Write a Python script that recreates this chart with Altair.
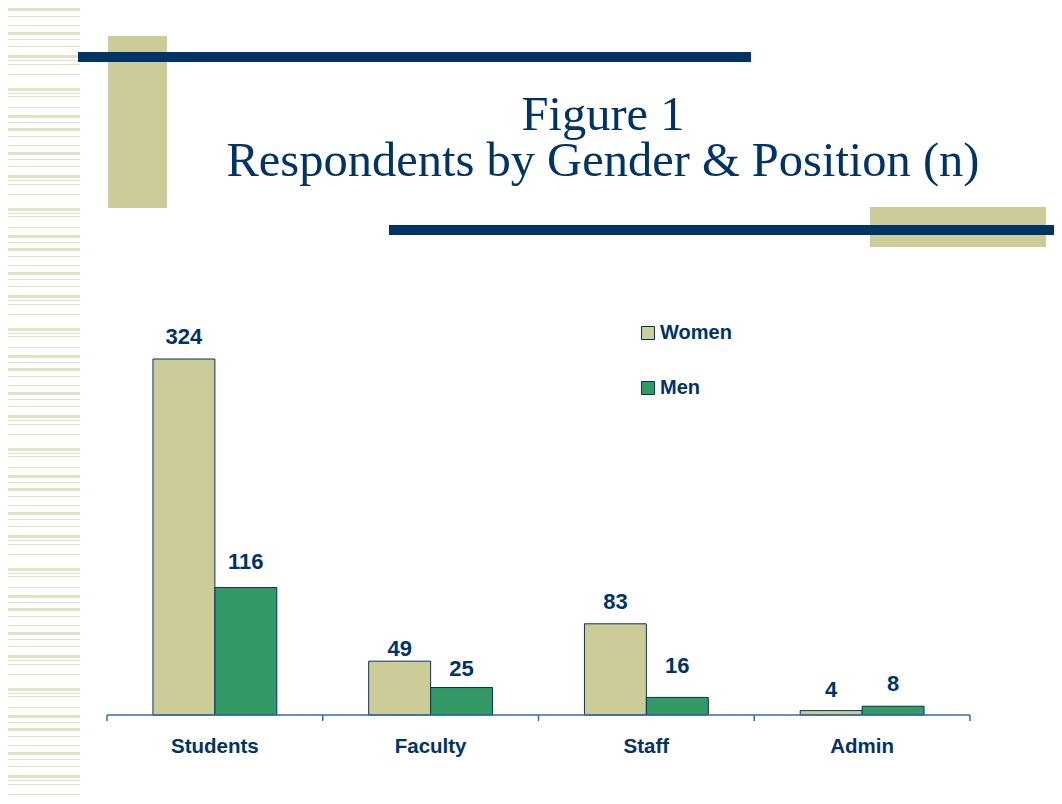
import altair as alt
import pandas as pd

# ---- data ----
categories = ["Students", "Faculty", "Staff", "Admin"]
series = ["Women", "Men"]
women = [324, 49, 83, 4]
men = [116, 25, 16, 8]
title_lines = ["Figure 1", "Respondents by Gender & Position (n)"]

rows = []
for i, c in enumerate(categories):
    rows.append({"Position": c, "Gender": "Women", "n": women[i]})
    rows.append({"Position": c, "Gender": "Men", "n": men[i]})
df = pd.DataFrame(rows)
cats_df = pd.DataFrame({"Position": categories})
one = pd.DataFrame({"k": [0]})

# ---- styles ----
NAVY = "#003366"
BEIGE = "#CCCC99"
GREEN = "#339966"
AXIS = "#3a6a9c"
STRIPE = "#e4e2c4"
SANS = "Liberation Sans"
SERIF = "Liberation Serif"
# vertical label offsets (px, baseline relative to bar top) as placed on the slide
label_dy = {"Women": [-15, -5, -15, -14], "Men": [-19, -12, -24, -15]}

xscale = alt.Scale(domain=categories, range=[99, 962], paddingInner=0, paddingOuter=0)
yscale = alt.Scale(domain=[0, 324], range=[707, 351], nice=False, zero=True)
xoff_scale = alt.Scale(domain=series, paddingOuter=0.742, paddingInner=0)
color_scale = alt.Scale(domain=series, range=[BEIGE, GREEN])

X = alt.X("Position:N", scale=xscale, sort=categories, axis=None)
XOFF = alt.XOffset("Gender:N", sort=series, scale=xoff_scale)
Y = alt.Y("n:Q", scale=yscale, axis=None)

# ---- decorations ----
stripes = alt.Chart(one).mark_rule(
    color=STRIPE, strokeWidth=74,
    strokeDash=[3, 5, 1, 8, 1, 6, 3, 4, 1, 6, 1, 8, 3, 2, 1, 3, 1, 9, 1, 13, 3, 2, 1, 2, 1, 10, 1, 7, 3, 4, 1, 5],
).encode(x=alt.value(35), y=alt.value(0), y2=alt.value(788))

rect1 = alt.Chart(one).mark_rect(color=BEIGE).encode(
    x=alt.value(100), x2=alt.value(159), y=alt.value(28), y2=alt.value(200))
rect2 = alt.Chart(one).mark_rect(color=BEIGE).encode(
    x=alt.value(862), x2=alt.value(1038), y=alt.value(199), y2=alt.value(239))
bar1 = alt.Chart(one).mark_rect(color=NAVY).encode(
    x=alt.value(70), x2=alt.value(743), y=alt.value(44), y2=alt.value(54))
bar2 = alt.Chart(one).mark_rect(color=NAVY).encode(
    x=alt.value(381), x2=alt.value(1046), y=alt.value(217), y2=alt.value(227))

title = alt.Chart(one).mark_text(text=title_lines, font=SERIF, fontSize=48.5, color=NAVY,
                                 align="center", baseline="alphabetic", lineHeight=46).encode(
    x=alt.value(595), y=alt.value(122))

# ---- chart ----
bars = alt.Chart(df).mark_bar(stroke=NAVY, strokeWidth=1).encode(
    x=X,
    xOffset=XOFF,
    y=Y,
    color=alt.Color("Gender:N", scale=color_scale, sort=series, title=None,
                    legend=alt.Legend(orient="none", legendX=630, legendY=315, padding=0,
                                      symbolType="square", symbolSize=169,
                                      symbolStrokeColor=NAVY, symbolStrokeWidth=1,
                                      labelFont=SANS, labelFontSize=20, labelFontWeight="bold",
                                      labelColor=NAVY, labelOffset=2, rowPadding=35)),
)

label_layers = []
for g in series:
    for i, c in enumerate(categories):
        label_layers.append(
            alt.Chart(df).transform_filter(
                (alt.datum.Gender == g) & (alt.datum.Position == c)
            ).mark_text(font=SANS, fontSize=22, fontWeight="bold", color=NAVY,
                        baseline="alphabetic", dy=label_dy[g][i]).encode(
                x=X, xOffset=XOFF, y=Y, text="n:Q")
        )

axis_line = alt.Chart(one).mark_rule(color=AXIS, strokeWidth=1.5).encode(
    x=alt.value(99), x2=alt.value(962), y=alt.value(707))
ticks = alt.Chart(cats_df).mark_rule(color=AXIS, strokeWidth=1.5).encode(
    x=alt.X("Position:N", scale=xscale, sort=categories, axis=None, bandPosition=0),
    y=alt.value(707), y2=alt.value(713))
end_tick = alt.Chart(one).mark_rule(color=AXIS, strokeWidth=1.5).encode(
    x=alt.value(962), y=alt.value(707), y2=alt.value(713))

cat_labels = alt.Chart(cats_df).mark_text(font=SANS, fontSize=20.5, fontWeight="bold", color=NAVY,
                                          baseline="middle").encode(
    x=X, y=alt.value(739), text="Position:N")

chart = alt.layer(
    stripes, rect1, rect2, bar1, bar2, title,
    bars, *label_layers, axis_line, ticks, end_tick, cat_labels,
).properties(
    width=1046, height=788,
    autosize=alt.AutoSizeParams(type="none"),
    padding=0,
    background="white",
).configure_view(stroke=None)

chart.save("out.html", embed_options={"renderer": "svg", "actions": False})
